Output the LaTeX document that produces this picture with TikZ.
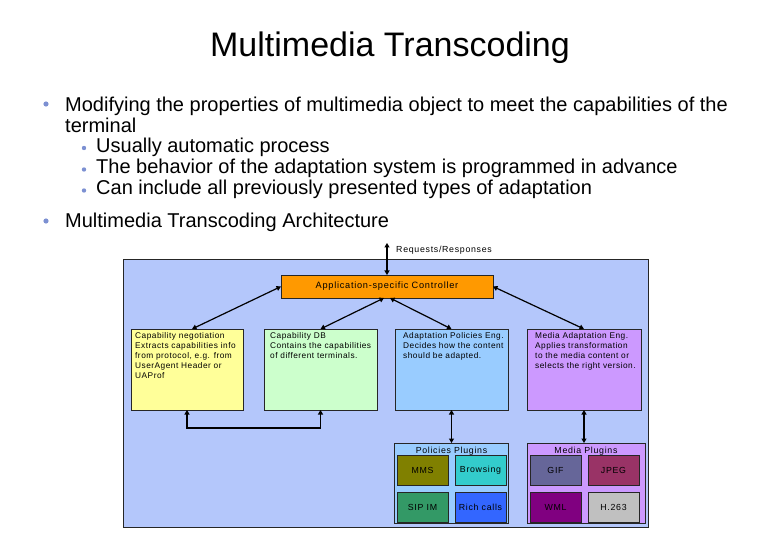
\documentclass[tikz,border=0pt]{standalone}
\usepackage{fontspec}
\setmainfont{Liberation Sans}
\newfontfamily\smallfam[LetterSpace=8]{Liberation Sans}
\newfontfamily\boxfam[LetterSpace=6]{Liberation Sans}
\usetikzlibrary{arrows.meta}
\definecolor{diagbg}{HTML}{B4C7FB}
\definecolor{bulletc}{HTML}{7C90D2}
\definecolor{ctrlc}{HTML}{FF9900}
\definecolor{yelc}{HTML}{FFFF99}
\definecolor{grnc}{HTML}{CCFFCC}
\definecolor{bluc}{HTML}{99CCFF}
\definecolor{purc}{HTML}{CC99FF}
\definecolor{mmsc}{HTML}{808000}
\definecolor{brwc}{HTML}{33CCCC}
\definecolor{sipc}{HTML}{339966}
\definecolor{richc}{HTML}{3366FF}
\definecolor{gifc}{HTML}{666699}
\definecolor{jpgc}{HTML}{993366}
\definecolor{wmlc}{HTML}{800080}
\definecolor{h263c}{HTML}{C0C0C0}
\begin{document}
\begin{tikzpicture}[x=1pt,y=-1pt,
  box/.style={draw=black!85, line width=0.7pt, inner sep=0pt, outer sep=0pt, anchor=north west},
  boxtext/.style={anchor=north west, align=left, inner sep=0pt, font=\boxfam\fontsize{8.3}{10}\selectfont},
  plug/.style={draw=black!85, line width=0.7pt, inner sep=0pt, outer sep=0pt, anchor=north west, minimum width=51, minimum height=30, font=\smallfam\fontsize{8.8}{10}\selectfont},
  biarrow/.style={line width=1.2pt, {Triangle[length=4.5pt,width=5pt]}-{Triangle[length=4.5pt,width=5pt]}},
  bullettext/.style={anchor=base west, inner sep=0pt, font=\fontsize{20}{24}\selectfont},
  smalllbl/.style={inner sep=0pt, font=\smallfam\fontsize{8.8}{10}\selectfont}
]
\useasboundingbox (0,0) rectangle (780,540);
\fill[white] (0,0) rectangle (780,540);

% title
\node[anchor=base, inner sep=0pt] (title) at (390,57) {\fontsize{34}{40}\selectfont Multimedia Transcoding};

% bullets
\fill[bulletc] (46,104) circle (2.6);
\node[bullettext] (b1) at (65,111.7) {Modifying the properties of multimedia object to meet the capabilities of the};
\node[bullettext] (b1b) at (65,133) {terminal};
\fill[bulletc] (84,148) circle (2.2);
\node[bullettext] (s1) at (96,153) {Usually automatic process};
\fill[bulletc] (84,169.5) circle (2.2);
\node[bullettext] (s2) at (96,174) {The behavior of the adaptation system is programmed in advance};
\fill[bulletc] (84,190.5) circle (2.2);
\node[bullettext] (s3) at (96,195) {Can include all previously presented types of adaptation};
\fill[bulletc] (46,221) circle (2.6);
\node[bullettext] (b2) at (65,227.5) {Multimedia Transcoding Architecture};

% diagram frame
\node[box, fill=diagbg, line width=1pt, minimum width=525, minimum height=267] (frame) at (123,260) {};

% controller
\node[box, fill=ctrlc, minimum width=212, minimum height=23, font=\smallfam\fontsize{9.2}{10}\selectfont] (ctrl) at (281,275) {Application-specific Controller};

% requests
\coordinate (req) at (387,243);
\draw[biarrow] (req) -- (ctrl.north);
\node[smalllbl, anchor=west] (reqlbl) at (396,250) {Requests/Responses};

% four boxes
\node[box, fill=yelc, minimum width=112, minimum height=81] (yel) at (131,329) {};
\node[box, fill=grnc, minimum width=113, minimum height=81] (grn) at (264,329) {};
\node[box, fill=bluc, minimum width=113, minimum height=81] (blu) at (395,329) {};
\node[box, fill=purc, minimum width=114, minimum height=81] (pur) at (527,329) {};

\node[boxtext] (yeltx) at (135,332) {Capability negotiation\\Extracts capabilities info\\from protocol, e.g. from\\UserAgent Header or\\UAProf};
\node[boxtext] (grntx) at (270,332) {Capability DB\\Contains the capabilities\\of different terminals.};
\node[boxtext] (blutx) at (403,332) {Adaptation Policies Eng.\\Decides how the content\\should be adapted.};
\node[boxtext] (purtx) at (535,332) {Media Adaptation Eng.\\Applies transformation\\to the media content or\\selects the right version.};

% controller arrows
\draw[biarrow] (ctrl.west) -- ([xshift=5]yel.north);
\draw[biarrow] ([xshift=-3]ctrl.south) -- (grn.north);
\draw[biarrow] ([xshift=3]ctrl.south) -- (blu.north);
\draw[biarrow] (ctrl.east) -- (pur.north);

% yellow - green
\draw[biarrow] (yel.south) -- ++(0,18) -| (grn.south);

% plugin containers
\node[box, fill=bluc, minimum width=114, minimum height=80] (pol) at (394.5,443) {};
\node[smalllbl, anchor=base] (pollbl) at (451.5,453) {Policies Plugins};
\node[box, fill=purc, minimum width=118, minimum height=80] (med) at (527,443) {};
\node[smalllbl, anchor=base] (medlbl) at (586,453) {Media Plugins};

\draw[biarrow] (blu.south) -- (pol.north);
\draw[biarrow] (pur.south) -- (pur.south |- med.north);

\node[plug, fill=mmsc] (mms) at (397,455) {MMS};
\node[plug, fill=brwc] (brw) at (455,455) {Browsing};
\node[plug, fill=sipc] (sip) at (397,492) {SIP IM};
\node[plug, fill=richc] (rich) at (455,492) {Rich calls};

\node[plug, fill=gifc] (gif) at (530,455) {GIF};
\node[plug, fill=jpgc] (jpg) at (588,455) {JPEG};
\node[plug, fill=wmlc] (wml) at (530,492) {WML};
\node[plug, fill=h263c] (h263) at (588,492) {H.263};
\end{tikzpicture}
\end{document}
